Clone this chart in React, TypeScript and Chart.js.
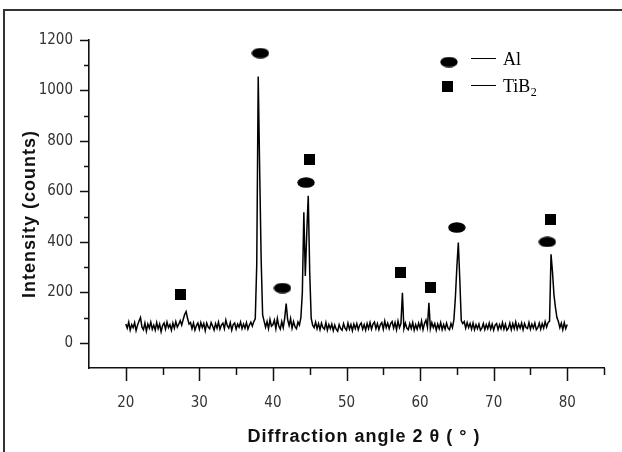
import React, { useEffect, useRef } from 'react';
import { Chart, registerables } from 'chart.js';

Chart.register(...registerables);

// 2θ grid of the measured pattern (degrees)
const angleStart = 20;
const angleStep = 0.2;

// Intensity (counts), one value per 0.2° from 20.0° to 80.0°
const intensity = [
  74, 58, 82, 50, 72, 60, 80, 48, 70, 86,
  100, 62, 52, 78, 46, 74, 58, 82, 54, 70,
  50, 80, 56, 74, 44, 68, 78, 54, 82, 60,
  72, 50, 78, 58, 84, 62, 74, 88, 70, 92,
  112, 124, 96, 74, 80, 56, 78, 50, 68, 78,
  54, 80, 60, 76, 48, 78, 62, 56, 80, 66,
  50, 76, 58, 82, 54, 70, 78, 56, 90, 68,
  58, 80, 50, 72, 78, 54, 74, 62, 82, 56,
  74, 58, 80, 54, 70, 82, 66, 84, 95, 310,
  1055, 680, 330, 110, 86, 62, 84, 56, 92, 66,
  72, 90, 56, 96, 66, 54, 84, 60, 98, 155,
  92, 68, 96, 58, 84, 64, 56, 82, 70, 100,
  200, 517, 265, 435, 583, 280, 98, 70, 60, 82,
  56, 76, 52, 78, 60, 54, 80, 50, 72, 56,
  74, 48, 70, 54, 46, 72, 56, 50, 76, 58,
  50, 78, 54, 72, 48, 74, 56, 76, 52, 70,
  78, 54, 72, 50, 76, 56, 80, 54, 74, 82,
  56, 76, 52, 72, 80, 54, 86, 60, 78, 56,
  76, 84, 58, 80, 52, 86, 60, 76, 198, 56,
  78, 58, 52, 76, 56, 80, 50, 72, 54, 78,
  58, 86, 52, 76, 90, 62, 158, 56, 80, 60,
  76, 50, 74, 56, 80, 52, 72, 54, 78, 58,
  52, 76, 60, 92, 180, 300, 397, 250, 88, 76,
  84, 58, 80, 60, 76, 54, 78, 52, 72, 56,
  74, 50, 58, 76, 52, 72, 56, 78, 54, 74,
  50, 70, 76, 52, 72, 56, 80, 54, 74, 50,
  58, 78, 52, 76, 56, 82, 54, 74, 58, 78,
  52, 76, 60, 56, 80, 54, 74, 58, 78, 52,
  60, 78, 54, 76, 58, 84, 62, 80, 86, 351,
  280, 190, 140, 100, 84, 60, 78, 52, 80, 56,
  72,
];

// Phase markers (Al = ellipse, TiB2 = square)
const alAngles = [38.3, 41.3, 44.5, 65.0, 77.3];
const alMarkHeights = [1148, 217, 635, 457, 400];
const tib2Angles = [27.4, 45.0, 57.35, 61.4, 77.75];
const tib2MarkHeights = [190, 725, 278, 218, 490];

// Axes
const xMin = 15;
const xMax = 85;
const yMin = -100;
const yMax = 1200;
const xMajorTicks = [20, 30, 40, 50, 60, 70, 80];
const xMinorTicks = [25, 35, 45, 55, 65, 75, 85];
const yMajorTicks = [0, 200, 400, 600, 800, 1000, 1200];
const yMinorTicks = [100, 300, 500, 700, 900, 1100];

const xTitle = 'Diffraction angle 2 θ ( ° )';
const yTitle = 'Intensity (counts)';
const legendLabels = ['Al', 'TiB'];
const legendSub = '2';

function makeEllipse(): HTMLCanvasElement {
  const c = document.createElement('canvas');
  c.width = 18;
  c.height = 11;
  const g = c.getContext('2d')!;
  g.fillStyle = '#000';
  g.beginPath();
  g.ellipse(9, 5.5, 8.7, 5.3, 0, 0, Math.PI * 2);
  g.fill();
  return c;
}

function makeSquare(): HTMLCanvasElement {
  const c = document.createElement('canvas');
  c.width = 11;
  c.height = 11;
  const g = c.getContext('2d')!;
  g.fillStyle = '#000';
  g.fillRect(0, 0, 11, 11);
  return c;
}

export default function App() {
  const ref = useRef<HTMLCanvasElement | null>(null);

  useEffect(() => {
    if (!ref.current) return;
    const ellipse = makeEllipse();
    const square = makeSquare();

    const pattern = intensity.map((v, i) => ({
      x: Math.round((angleStart + i * angleStep) * 10) / 10,
      y: v,
    }));
    const alPts = alAngles.map((a, i) => ({ x: a, y: alMarkHeights[i] }));
    const tiPts = tib2Angles.map((a, i) => ({ x: a, y: tib2MarkHeights[i] }));

    const decor = {
      id: 'decor',
      beforeDraw(chart: any) {
        const ctx = chart.ctx;
        ctx.save();
        ctx.fillStyle = '#fff';
        ctx.fillRect(0, 0, chart.width, chart.height);
        ctx.strokeStyle = '#333';
        ctx.lineWidth = 2;
        ctx.beginPath();
        ctx.moveTo(4, 452);
        ctx.lineTo(4, 10);
        ctx.lineTo(622, 10);
        ctx.stroke();
        ctx.restore();
      },
      afterDraw(chart: any) {
        const ctx = chart.ctx;
        const ca = chart.chartArea;
        const xs = chart.scales.x;
        const ys = chart.scales.y;
        ctx.save();
        ctx.strokeStyle = '#111';
        ctx.lineWidth = 1.5;
        ctx.beginPath();
        xMajorTicks.forEach((v) => {
          const p = Math.round(xs.getPixelForValue(v)) + 0.5;
          ctx.moveTo(p, ca.bottom);
          ctx.lineTo(p, ca.bottom + 13);
        });
        xMinorTicks.forEach((v) => {
          const p = Math.round(xs.getPixelForValue(v)) + 0.5;
          ctx.moveTo(p, ca.bottom);
          ctx.lineTo(p, ca.bottom + 7);
        });
        yMajorTicks.forEach((v) => {
          const p = Math.round(ys.getPixelForValue(v)) + 0.5;
          ctx.moveTo(ca.left, p);
          ctx.lineTo(ca.left - 9, p);
        });
        yMinorTicks.forEach((v) => {
          const p = Math.round(ys.getPixelForValue(v)) + 0.5;
          ctx.moveTo(ca.left, p);
          ctx.lineTo(ca.left - 5, p);
        });
        ctx.stroke();

        // axis titles
        ctx.fillStyle = '#111';
        ctx.font = 'bold 18px "Liberation Sans", Arial, sans-serif';
        try { (ctx as any).letterSpacing = '1px'; } catch (e) {}
        ctx.textAlign = 'center';
        ctx.textBaseline = 'middle';
        ctx.fillText(xTitle, 364, 437);
        ctx.save();
        ctx.translate(30, 214);
        ctx.rotate(-Math.PI / 2);
        ctx.fillText(yTitle, 0, 0);
        ctx.restore();
        try { (ctx as any).letterSpacing = '0px'; } catch (e) {}

        // legend
        ctx.drawImage(ellipse, 449 - 9, 62 - 5.5);
        ctx.drawImage(square, 447 - 5.5, 86 - 5.5);
        ctx.lineWidth = 1.2;
        ctx.strokeStyle = '#000';
        ctx.beginPath();
        ctx.moveTo(471, 58.5);
        ctx.lineTo(496, 58.5);
        ctx.moveTo(471, 85.5);
        ctx.lineTo(496, 85.5);
        ctx.stroke();
        ctx.fillStyle = '#000';
        ctx.textAlign = 'left';
        ctx.textBaseline = 'alphabetic';
        ctx.font = '18px "Liberation Serif", "Times New Roman", serif';
        ctx.fillText(legendLabels[0], 503, 65);
        ctx.fillText(legendLabels[1], 503, 92);
        const w = ctx.measureText(legendLabels[1]).width;
        ctx.font = '12px "Liberation Serif", "Times New Roman", serif';
        ctx.fillText(legendSub, 503 + w + 0.5, 96);
        ctx.restore();
      },
    };

    const tickFont = { family: '"Liberation Sans Narrow", "DejaVu Sans Condensed", sans-serif', size: 15 };

    const chart = new Chart(ref.current, {
      type: 'line',
      data: {
        datasets: [
          {
            type: 'scatter' as any,
            label: 'Al',
            data: alPts,
            pointStyle: ellipse as any,
            showLine: false,
            order: 0,
          },
          {
            type: 'scatter' as any,
            label: 'TiB2',
            data: tiPts,
            pointStyle: square as any,
            showLine: false,
            order: 0,
          },
          {
            label: 'XRD',
            data: pattern,
            borderColor: '#000',
            borderWidth: 1.5,
            pointRadius: 0,
            tension: 0,
            fill: false,
            order: 1,
          },
        ],
      },
      options: {
        animation: false,
        responsive: false,
        devicePixelRatio: 1,
        layout: { padding: { left: 0, right: 18, top: 40, bottom: 0 } },
        plugins: { legend: { display: false }, tooltip: { enabled: false } },
        scales: {
          x: {
            type: 'linear',
            min: xMin,
            max: xMax,
            afterFit: (s: any) => { s.height = 84; },
            border: { display: true, color: '#111', width: 1.6 },
            grid: { display: true, drawOnChartArea: false, drawTicks: true, tickLength: 13, color: 'rgba(0,0,0,0)' },
            ticks: {
              stepSize: 5,
              autoSkip: false,
              maxRotation: 0,
              padding: 13,
              color: '#333',
              font: tickFont,
              callback: (v: any) => (xMajorTicks.includes(Number(v)) ? String(v) : ''),
            },
          },
          y: {
            type: 'linear',
            min: yMin,
            max: yMax,
            afterFit: (s: any) => { s.width = 89; },
            border: { display: true, color: '#111', width: 1.6 },
            grid: { display: true, drawOnChartArea: false, drawTicks: true, tickLength: 9, color: 'rgba(0,0,0,0)' },
            ticks: {
              stepSize: 100,
              autoSkip: false,
              padding: 7,
              color: '#333',
              font: tickFont,
              callback: (v: any) => (yMajorTicks.includes(Number(v)) ? String(v) : ''),
            },
          },
        },
      },
      plugins: [decor],
    } as any);

    return () => chart.destroy();
  }, []);

  return (
    <div style={{ position: 'fixed', left: 0, top: 0, width: 622, height: 452, background: '#fff' }}>
      <canvas ref={ref} width={622} height={452} style={{ display: 'block' }} />
    </div>
  );
}
